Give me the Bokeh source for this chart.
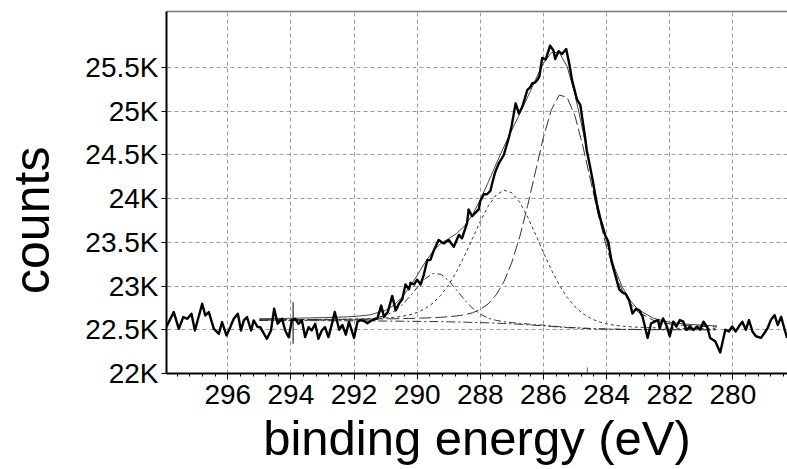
from bokeh.plotting import figure
from bokeh.models import Range1d, FixedTicker, LinearAxis
from bokeh.embed import file_html
from bokeh.resources import INLINE

# ---------------- data ----------------
raw_be = [297.95, 297.71, 297.55, 297.41, 297.28, 297.15, 297.04, 296.81, 296.71, 296.60,
          296.44, 296.28, 296.18, 296.04, 295.92, 295.81, 295.68, 295.58, 295.49, 295.39,
          295.26, 295.18, 295.05, 294.97, 294.76, 294.63, 294.53, 294.42, 294.28, 294.18,
          294.07, 293.97, 293.86, 293.76, 293.65, 293.55, 293.44, 293.34, 293.23, 293.13,
          293.02, 292.92, 292.81, 292.70, 292.61, 292.47, 292.37, 292.26, 292.16, 292.00,
          291.89, 291.79, 291.68, 291.58, 291.42, 291.26, 291.14, 291.05, 290.93, 290.79,
          290.68, 290.58, 290.47, 290.37, 290.26, 290.21, 290.10, 290.00, 289.89, 289.79,
          289.68, 289.58, 289.47, 289.32, 289.16, 289.00, 288.84, 288.68, 288.58, 288.42,
          288.37, 288.26, 288.16, 288.05, 288.00, 287.89, 287.79, 287.68, 287.63, 287.53,
          287.42, 287.26, 287.09, 287.01, 286.88, 286.78, 286.67, 286.51, 286.43, 286.35,
          286.27, 286.19, 286.13, 286.04, 285.93, 285.79, 285.68, 285.63, 285.52, 285.41,
          285.28, 285.17, 285.10, 284.94, 284.83, 284.78, 284.67, 284.63, 284.53, 284.42,
          284.32, 284.21, 284.13, 284.05, 283.95, 283.84, 283.72, 283.60, 283.49, 283.39,
          283.28, 283.18, 283.07, 282.96, 282.86, 282.70, 282.59, 282.48, 282.37, 282.32,
          282.21, 282.11, 282.00, 281.89, 281.79, 281.68, 281.57, 281.47, 281.36, 281.25,
          281.14, 281.04, 280.93, 280.80, 280.72, 280.56, 280.40, 280.24, 280.13, 280.02,
          279.91, 279.81, 279.70, 279.59, 279.49, 279.38, 279.27, 279.11, 279.00, 278.90,
          278.80, 278.68, 278.58, 278.47, 278.36, 278.28]
raw_counts = [22530, 22702, 22511, 22645, 22626, 22683, 22492, 22798, 22664, 22702,
              22511, 22454, 22588, 22435, 22530, 22626, 22683, 22492, 22607, 22645,
              22492, 22607, 22530, 22530, 22397, 22492, 22740, 22568, 22626, 22492,
              22416, 22607, 22626, 22568, 22607, 22416, 22530, 22492, 22568, 22397,
              22492, 22530, 22416, 22568, 22703, 22500, 22555, 22444, 22592, 22407,
              22592, 22611, 22600, 22574, 22611, 22630, 22777, 22648, 22703, 22888,
              22722, 22796, 22852, 23018, 22963, 23037, 23018, 23073, 23018, 23129,
              23295, 23300, 23410, 23527, 23488, 23527, 23450, 23585, 23546, 23721,
              23876, 23798, 23837, 23876, 23973, 24050, 24050, 24089, 24167, 24302,
              24399, 24496, 24705, 24827, 25090, 24974, 25051, 25243, 25269, 25320,
              25327, 25359, 25397, 25609, 25590, 25750, 25692, 25596, 25686, 25654,
              25711, 25519, 25365, 25135, 25070, 24942, 24673, 24554, 24380, 24167,
              23950, 23779, 23690, 23585, 23512, 23275, 23120, 22962, 22925, 22907,
              22833, 22685, 22740, 22722, 22648, 22407, 22574, 22593, 22611, 22518,
              22630, 22555, 22426, 22593, 22537, 22611, 22593, 22500, 22537, 22500,
              22537, 22500, 22593, 22518, 22407, 22370, 22240, 22500, 22481, 22537,
              22481, 22537, 22593, 22500, 22611, 22481, 22426, 22407, 22463, 22518,
              22611, 22667, 22555, 22648, 22500, 22407]

fit_be = [295.0, 294.0, 293.0, 292.5, 292.0, 291.5, 291.0, 290.75, 290.5, 290.25,
          290.0, 289.75, 289.5, 289.25, 289.0, 288.75, 288.5, 288.25, 288.0, 287.75,
          287.5, 287.25, 287.0, 286.75, 286.5, 286.25, 286.0, 285.75, 285.5, 285.25,
          285.0, 284.75, 284.5, 284.25, 284.0, 283.75, 283.5, 283.25, 283.0, 282.5,
          282.0, 281.5, 281.0, 280.5]
background = [22606, 22605, 22604, 22603, 22602, 22601, 22600, 22599, 22598, 22597,
              22596, 22595, 22594, 22593, 22591, 22589, 22587, 22584, 22582, 22579,
              22576, 22572, 22568, 22563, 22557, 22551, 22545, 22538, 22531, 22525,
              22520, 22516, 22512, 22509, 22507, 22505, 22504, 22503, 22502, 22501,
              22500, 22500, 22500, 22500]
peak_285 = [22615, 22616, 22618, 22619, 22620, 22622, 22625, 22626, 22628, 22630,
            22632, 22635, 22639, 22643, 22649, 22658, 22672, 22694, 22733, 22796,
            22898, 23052, 23273, 23565, 23921, 24315, 24702, 25016, 25185, 25158,
            24944, 24599, 24195, 23797, 23444, 23159, 22947, 22800, 22702, 22605,
            22567, 22549, 22539, 22532]
peak_287 = [22614, 22616, 22619, 22620, 22623, 22627, 22635, 22642, 22653, 22670,
            22698, 22741, 22805, 22895, 23015, 23167, 23346, 23542, 23740, 23914,
            24041, 24096, 24066, 23957, 23790, 23590, 23383, 23186, 23013, 22872,
            22764, 22685, 22629, 22592, 22568, 22552, 22542, 22535, 22529, 22523,
            22518, 22515, 22513, 22511]
peak_289 = [22609, 22609, 22610, 22611, 22613, 22623, 22662, 22707, 22778, 22874,
            22984, 23084, 23143, 23135, 23062, 22954, 22843, 22747, 22679, 22634,
            22608, 22592, 22582, 22574, 22566, 22559, 22552, 22544, 22536, 22529,
            22524, 22520, 22515, 22512, 22510, 22508, 22506, 22505, 22504, 22503,
            22502, 22501, 22501, 22501]
envelope = [22626, 22631, 22639, 22644, 22652, 22670, 22722, 22777, 22863, 22980,
            23122, 23270, 23399, 23487, 23544, 23601, 23687, 23815, 23988, 24186,
            24395, 24596, 24785, 24970, 25163, 25362, 25547, 25670, 25672, 25509,
            25192, 24772, 24315, 23883, 23508, 23209, 22987, 22834, 22731, 22629,
            22587, 22565, 22553, 22544]

marker_be = [293.93]
marker_low = [22340]
marker_high = [22815]
small_mark_be = [284.61]
small_mark_low = [22000]
small_mark_high = [22070]

x_ticks = [296, 294, 292, 290, 288, 286, 284, 282, 280]
x_minor = [297.6, 297.2, 296.8, 296.4, 295.6, 295.2, 294.8, 294.4, 293.6, 293.2, 292.8, 292.4,
           291.6, 291.2, 290.8, 290.4, 289.6, 289.2, 288.8, 288.4, 287.6, 287.2, 286.8, 286.4,
           285.6, 285.2, 284.8, 284.4, 283.6, 283.2, 282.8, 282.4, 281.6, 281.2, 280.8, 280.4,
           279.6, 279.2, 278.8, 278.4]
y_ticks = [22000, 22500, 23000, 23500, 24000, 24500, 25000, 25500]
y_tick_labels = ["22K", "22.5K", "23K", "23.5K", "24K", "24.5K", "25K", "25.5K"]
x_title = "binding energy (eV)"
y_title = "counts"

FONT = "Liberation Sans"

p = figure(width=787, height=469, output_backend="svg", toolbar_location=None,
           x_range=Range1d(297.94, 278.27), y_range=Range1d(22000, 26140),
           min_border_left=166, min_border_right=0, min_border_top=11, min_border_bottom=96)
p.outline_line_color = None
p.background_fill_color = "white"
p.border_fill_color = "white"

# grid
for g in (p.xgrid[0], p.ygrid[0]):
    g.grid_line_color = "#9a9a9a"
    g.grid_line_dash = "4 3"
    g.grid_line_width = 1
p.xgrid[0].ticker = FixedTicker(ticks=x_ticks)
p.ygrid[0].ticker = FixedTicker(ticks=y_ticks)

# x axis
xa = p.xaxis[0]
xa.ticker = FixedTicker(ticks=x_ticks, minor_ticks=x_minor)
xa.axis_line_color = "black"
xa.axis_line_width = 2
xa.major_tick_line_color = "black"
xa.major_tick_out = 6
xa.major_tick_in = 0
xa.minor_tick_line_color = "black"
xa.minor_tick_out = 3
xa.minor_tick_in = 0
xa.major_label_text_font = FONT
xa.major_label_text_font_size = "28px"
xa.major_label_text_color = "black"
xa.major_label_standoff = 5
xa.axis_label = x_title
xa.axis_label_text_font = FONT
xa.axis_label_text_font_size = "49px"
xa.axis_label_text_font_style = "normal"
xa.axis_label_text_color = "black"
xa.axis_label_standoff = 4

# y axis
ya = p.yaxis[0]
ya.ticker = FixedTicker(ticks=y_ticks)
ya.major_label_overrides = {t: l for t, l in zip(y_ticks, y_tick_labels)}
ya.axis_line_color = "black"
ya.axis_line_width = 2
ya.major_tick_line_color = "black"
ya.major_tick_out = 5
ya.major_tick_in = 0
ya.minor_tick_line_color = None
ya.major_label_text_font = FONT
ya.major_label_text_font_size = "28px"
ya.major_label_text_color = "black"
ya.major_label_standoff = 3
# trailing no-break spaces shift the rotated title down, as in the reference
ya.axis_label = y_title + "\u00a0\u00a0\u00a0\u00a0"
ya.axis_label_text_font = FONT
ya.axis_label_text_font_size = "50px"
ya.axis_label_text_font_style = "normal"
ya.axis_label_text_color = "black"
ya.axis_label_standoff = 22

# top border as an empty axis
top = LinearAxis(ticker=FixedTicker(ticks=[]), axis_line_color="#777777", axis_line_width=1.5,
                 major_tick_line_color=None, minor_tick_line_color=None)
p.add_layout(top, "above")

# curves
p.line(fit_be, background, line_color="#333333", line_width=1, line_dash="9 3 2 3")
p.line(fit_be, peak_289, line_color="#333333", line_width=1, line_dash="7 3 2 3")
p.line(fit_be, peak_287, line_color="#333333", line_width=1, line_dash="3 3")
p.line(fit_be, peak_285, line_color="#333333", line_width=1, line_dash="12 4")
p.line(fit_be, envelope, line_color="#444444", line_width=1)
p.line(raw_be, raw_counts, line_color="black", line_width=2.4, line_join="round")
p.segment(marker_be, marker_low, marker_be, marker_high, line_color="black", line_width=1)
p.segment(small_mark_be, small_mark_low, small_mark_be, small_mark_high,
          line_color="#666666", line_width=1)

open("out.html", "w").write(file_html(p, INLINE))
